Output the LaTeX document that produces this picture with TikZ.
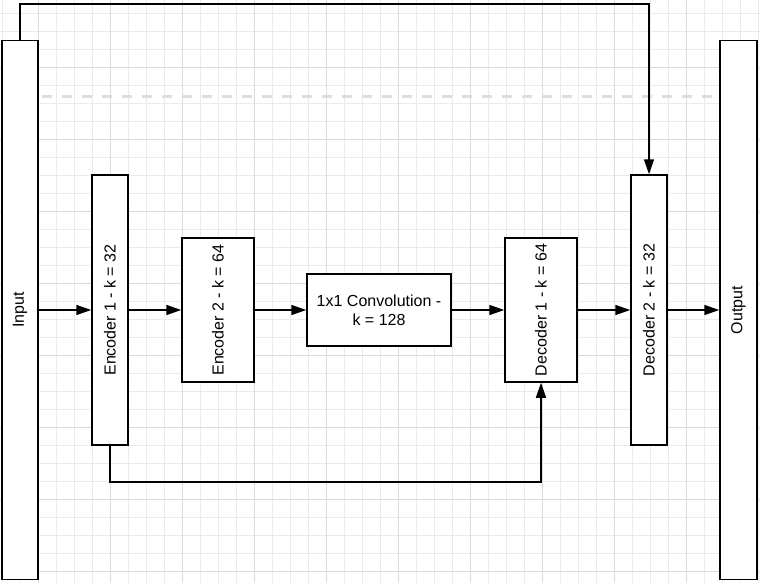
\documentclass[tikz,border=0pt]{standalone}
\usepackage{fontspec}
\setmainfont{Liberation Sans}
\usetikzlibrary{arrows.meta}

\definecolor{gridminor}{HTML}{EBEBEB}
\definecolor{gridmajor}{HTML}{DADADA}
\definecolor{dashgray}{HTML}{DDDDDD}

\tikzset{
  block/.style={draw=black, fill=white, line width=1.5pt, rectangle, inner sep=0pt,
    font=\fontsize{16}{19}\selectfont, align=center},
  flow/.style={draw=black, line width=1.5pt, -{Triangle[length=15pt,width=10pt]}},
  link/.style={draw=black, line width=1.5pt},
  minorline/.style={draw=gridminor, line width=0.9pt},
  majorline/.style={draw=gridmajor, line width=1pt},
}

\begin{document}
\begin{tikzpicture}[x=1pt, y=-1pt]
  \useasboundingbox (0,0) rectangle (760,583);
  \fill[white] (0,0) rectangle (760,583);

  % background grid: fine lines every 18 units, heavier every 72
  \foreach \k in {0,...,42} \draw[minorline] ({2.7+18*\k},0) -- ({2.7+18*\k},583);
  \foreach \k in {0,...,31} \draw[minorline] (0,{13.3+18*\k}) -- (760,{13.3+18*\k});
  \foreach \k in {0,...,9}  \draw[majorline] ({38.7+72*\k},0) -- ({38.7+72*\k},583);
  \foreach \k in {0,...,7}  \draw[majorline] (0,{67.3+72*\k}) -- (760,{67.3+72*\k});

  % dashed guide line
  \draw[dashgray, line width=2.5pt, dash pattern=on 10pt off 10pt] (42,96.3) -- (712,96.3);

  % blocks
  \node[block, minimum width=36pt, minimum height=539pt] (input) at (20,310) {\rotatebox{90}{Input}};
  \node[block, minimum width=36pt, minimum height=270pt] (enc1) at (110,310) {\rotatebox{90}{Encoder 1 - k = 32}};
  \node[block, minimum width=72pt, minimum height=144pt] (enc2) at (218,310) {\rotatebox{90}{Encoder 2 - k = 64}};
  \node[block, minimum width=144pt, minimum height=72pt] (conv) at (379,310) {1x1 Convolution -\\k = 128};
  \node[block, minimum width=72pt, minimum height=144pt] (dec1) at (541,310) {\rotatebox{90}{Decoder 1 - k = 64}};
  \node[block, minimum width=36pt, minimum height=270pt] (dec2) at (649,310) {\rotatebox{90}{Decoder 2 - k = 32}};
  \node[block, minimum width=37pt, minimum height=539pt] (output) at (738.5,310) {\rotatebox{90}{Output}};

  % main flow
  \draw[flow] (input) -- (enc1);
  \draw[flow] (enc1) -- (enc2);
  \draw[flow] (enc2) -- (conv);
  \draw[flow] (conv) -- (dec1);
  \draw[flow] (dec1) -- (dec2);
  \draw[flow] (dec2) -- (output);

  % skip connections
  \coordinate (topbend) at (0,4);
  \coordinate (botbend) at (0,482);
  \draw[flow] (input.north) -- (input.north |- topbend) -| (dec2.north);
  \draw[flow] (enc1.south) -- (enc1.south |- botbend) -| (dec1.south);
\end{tikzpicture}
\end{document}
